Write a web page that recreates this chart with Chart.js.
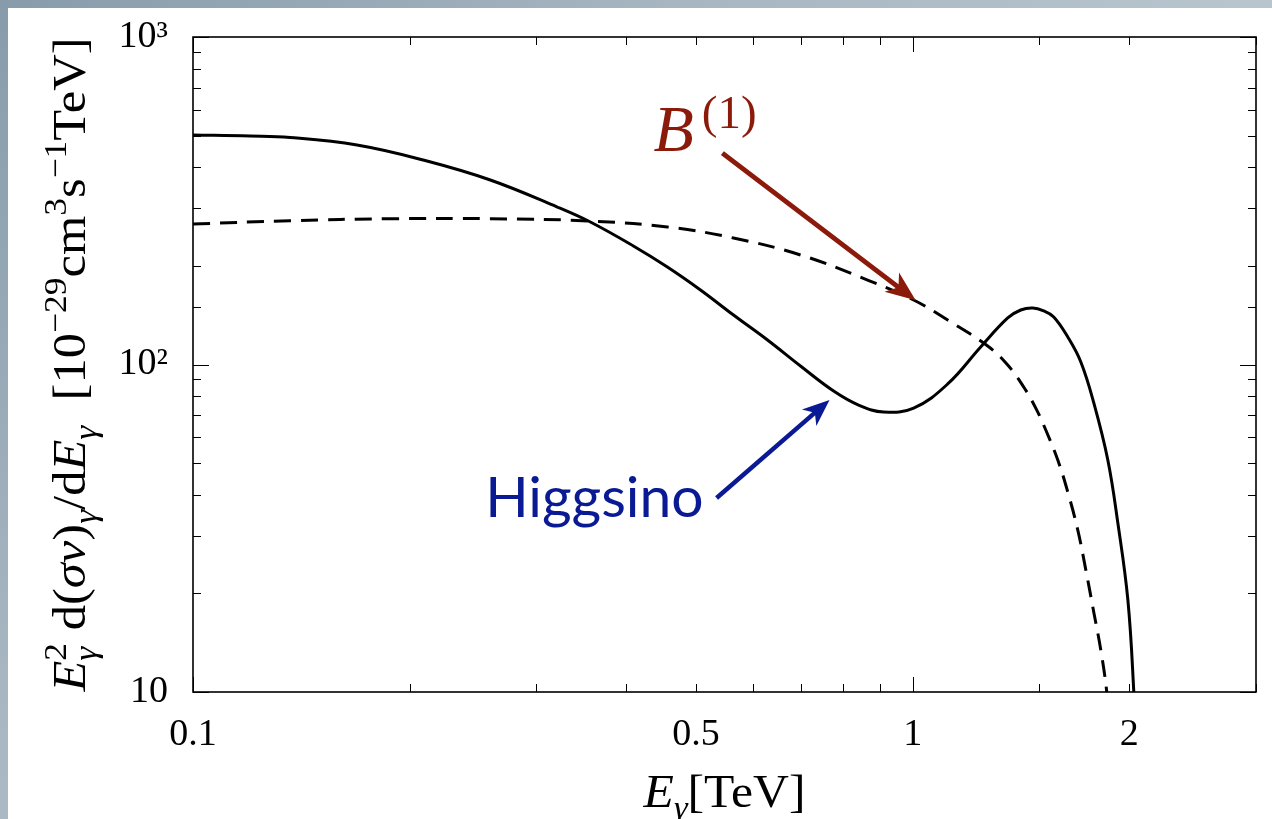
<!DOCTYPE html>
<html>
<head>
<meta charset="utf-8">
<script src="https://cdn.jsdelivr.net/npm/chart.js@4.4.1/dist/chart.umd.min.js"></script>
<style>
  html, body { margin: 0; padding: 0; }
  body {
    width: 1272px; height: 819px; overflow: hidden; position: relative;
    background: radial-gradient(circle at 0 0, #879cab 0%, #a7b6c1 45%, #b9c6ce 85%);
  }
  #sheet { position: absolute; left: 8px; top: 8px; width: 1264px; height: 811px; background: #fff; }
</style>
</head>
<body>
<div id="sheet"><canvas id="spectrum" width="1264" height="811"></canvas></div>
<script>
"use strict";

// photon energy grid [TeV] and E^2 d(sigma v)/dE [1e-29 cm^3 s^-1 TeV]
const higgsinoE = [0.1, 0.12, 0.1364, 0.169, 0.2089, 0.2589, 0.3208, 0.3566, 0.4092, 0.4562,
  0.5072, 0.5637, 0.6285, 0.6985, 0.7766, 0.8412, 0.9114, 1.0032, 1.1187, 1.2432,
  1.3556, 1.4131, 1.4686, 1.5212, 1.5707, 1.6428, 1.7128, 1.7855, 1.8673, 1.9282,
  1.991, 2.0296, 2.042];
const higgsinoFlux = [502, 498.5, 493.3, 467.9, 421.1, 365.9, 302.6, 272.3, 230.1, 198.5,
  168.9, 141.6, 118.8, 98.95, 82.99, 75.2, 71.6, 73.6, 87.2, 113.1,
  138.7, 146.7, 148.8, 145.7, 139.7, 121.3, 101.8, 76.3, 51.1, 32.8,
  19.1, 9.93, 7];

const kkE = [0.1, 0.1364, 0.1879, 0.2589, 0.3566, 0.4562, 0.5637, 0.6985, 0.8657, 1.0032,
  1.1187, 1.2714, 1.3556, 1.4267, 1.4828, 1.5311, 1.5911, 1.6428, 1.6963, 1.7403,
  1.7855, 1.8261, 1.8616, 1.873];
const kkFlux = [268.5, 274.8, 278.7, 278.7, 274.2, 263, 243.4, 216, 181.1, 157.4,
  136.7, 113.9, 99.6, 85.4, 73.6, 63.1, 51.1, 40.8, 31.2, 23.6,
  17.5, 13.4, 9.93, 8];

const xTickLabels = [0.1, 0.5, 1, 2];
const yTickLabels = { 10: "10", 100: "10\u00B2", 1000: "10\u00B3" };

const SERIF = '"Liberation Serif", "Times New Roman", serif';
const RED = "#8c1a0a";
const BLUE = "#0a1a94";

function near(a, b) {
  return Math.abs(a - b) < 1e-9 * Math.max(1, Math.abs(b));
}

function isDecade(v) {
  const l = Math.log10(v);
  return Math.abs(l - Math.round(l)) < 1e-6;
}

// small rich text helper: parts are {t, i (italic), s: 'sup'|'sub', hold (stack with next)}
function font(size, italic) {
  return (italic ? "italic " : "") + size + "px " + SERIF;
}

function layoutRich(ctx, parts, size) {
  let w = 0;
  let held = 0;
  const items = [];
  parts.forEach(p => {
    const sz = p.s ? size * 0.7 : size;
    ctx.font = font(sz, p.i);
    const pw = ctx.measureText(p.t).width;
    const dy = p.s === "sup" ? -size * 0.42 : p.s === "sub" ? size * 0.24 : 0;
    items.push({ t: p.t, f: ctx.font, x: w, dy: dy });
    if (p.hold) {
      held = pw;
    } else {
      w += Math.max(pw, held);
      held = 0;
    }
  });
  return { items: items, width: w };
}

function drawRich(ctx, parts, size, stretch, color) {
  const lay = layoutRich(ctx, parts, size);
  ctx.scale(stretch, 1);
  ctx.fillStyle = color;
  ctx.textBaseline = "alphabetic";
  ctx.textAlign = "left";
  lay.items.forEach(it => {
    ctx.font = it.f;
    ctx.fillText(it.t, it.x - lay.width / 2, it.dy);
  });
}

const yTitle = [
  { t: "E", i: true }, { t: "2", s: "sup", hold: true }, { t: "\u03B3", s: "sub", i: true },
  { t: " d(" }, { t: "\u03C3v", i: true }, { t: ")" }, { t: "\u03B3", s: "sub", i: true },
  { t: "/d" }, { t: "E", i: true }, { t: "\u03B3", s: "sub", i: true },
  { t: "  [10" }, { t: "\u221229", s: "sup" }, { t: "cm" }, { t: "3", s: "sup" },
  { t: "s" }, { t: "\u22121", s: "sup" }, { t: "TeV]" }
];
const xTitle = [
  { t: "E", i: true }, { t: "\u03B3", s: "sub", i: true }, { t: "[TeV]" }
];

function arrow(ctx, x1, y1, x2, y2, color, lw, L, W) {
  const a = Math.atan2(y2 - y1, x2 - x1);
  const len = Math.hypot(x2 - x1, y2 - y1);
  ctx.save();
  ctx.translate(x2, y2);
  ctx.rotate(a);
  ctx.strokeStyle = color;
  ctx.lineWidth = lw;
  ctx.beginPath();
  ctx.moveTo(-len, 0);
  ctx.lineTo(-L * 0.7, 0);
  ctx.stroke();
  ctx.fillStyle = color;
  ctx.beginPath();
  ctx.moveTo(0, 0);
  ctx.lineTo(-L, W);
  ctx.lineTo(-L * 0.72, 0);
  ctx.lineTo(-L, -W);
  ctx.closePath();
  ctx.fill();
  ctx.restore();
}

// frame, inward ticks on all four sides, axis titles
const framePlugin = {
  id: "frame",
  afterDraw(chart) {
    const ctx = chart.ctx;
    const { left, right, top, bottom } = chart.chartArea;
    const xs = chart.scales.x;
    const ys = chart.scales.y;
    ctx.save();
    ctx.strokeStyle = "#000";
    ctx.lineWidth = 1;
    ctx.beginPath();
    xs.ticks.forEach(t => {
      const px = Math.round(xs.getPixelForValue(t.value)) + 0.5;
      const len = isDecade(t.value) ? 15 : 8;
      ctx.moveTo(px, bottom); ctx.lineTo(px, bottom - len);
      ctx.moveTo(px, top); ctx.lineTo(px, top + len);
    });
    ys.ticks.forEach(t => {
      const py = Math.round(ys.getPixelForValue(t.value)) + 0.5;
      const len = isDecade(t.value) ? 16 : 8;
      ctx.moveTo(left, py); ctx.lineTo(left + len, py);
      ctx.moveTo(right, py); ctx.lineTo(right - len, py);
    });
    ctx.stroke();
    ctx.lineWidth = 1.6;
    ctx.strokeRect(left, top, right - left, bottom - top);

    ctx.save();
    ctx.translate((left + right) / 2, 799);
    drawRich(ctx, xTitle, 46, 1.08, "#000");
    ctx.restore();

    ctx.save();
    ctx.translate(77, (top + bottom) / 2);
    ctx.rotate(-Math.PI / 2);
    drawRich(ctx, yTitle, 46, 1.1, "#000");
    ctx.restore();
    ctx.restore();
  }
};

// labels with arrows pointing at the two spectra (anchored in data units)
const labelPlugin = {
  id: "callouts",
  afterDatasetsDraw(chart) {
    const ctx = chart.ctx;
    const xs = chart.scales.x;
    const ys = chart.scales.y;
    const P = (e, f) => [xs.getPixelForValue(e), ys.getPixelForValue(f)];
    ctx.save();

    const b0 = P(0.544, 442), b1 = P(1.0097, 157);
    arrow(ctx, b0[0], b0[1], b1[0], b1[1], RED, 5, 30, 12);
    const bl = P(0.4364, 449);
    ctx.fillStyle = RED;
    ctx.textBaseline = "alphabetic";
    ctx.textAlign = "left";
    ctx.font = font(66, true);
    ctx.fillText("B", bl[0], bl[1]);
    const bw = ctx.measureText("B").width;
    ctx.font = font(47, false);
    ctx.fillText("(1)", bl[0] + bw + 8, bl[1] - 23);

    const h0 = P(0.534, 39.1), h1 = P(0.7665, 77.9);
    arrow(ctx, h0[0], h0[1], h1[0], h1[1], BLUE, 4.5, 27, 11);
    const hl = P(0.2547, 34.2);
    ctx.fillStyle = BLUE;
    ctx.font = '57px Lato, "Open Sans", sans-serif';
    ctx.fillText("Higgsino", hl[0], hl[1]);
    ctx.restore();
  }
};

const ctx = document.getElementById("spectrum").getContext("2d");
const chart = new Chart(ctx, {
  type: "line",
  data: {
    datasets: [
      {
        label: "Higgsino",
        data: higgsinoE.map((e, k) => ({ x: e, y: higgsinoFlux[k] })),
        borderColor: "#000",
        borderWidth: 3,
        pointRadius: 0,
        tension: 0.4,
        clip: 0
      },
      {
        label: "B(1)",
        data: kkE.map((e, k) => ({ x: e, y: kkFlux[k] })),
        borderColor: "#000",
        borderWidth: 3,
        borderDash: [17, 10],
        pointRadius: 0,
        tension: 0.4,
        clip: 0
      }
    ]
  },
  options: {
    responsive: false,
    animation: false,
    layout: { padding: { top: 29, right: 16, left: 0, bottom: 0 } },
    plugins: { legend: { display: false }, tooltip: { enabled: false } },
    scales: {
      x: {
        type: "logarithmic",
        min: 0.1,
        max: 3,
        grid: { display: false, drawTicks: false },
        border: { display: false },
        ticks: {
          autoSkip: false,
          maxRotation: 0,
          padding: 20,
          color: "#000",
          font: { family: SERIF, size: 38 },
          callback: v => (xTickLabels.some(t => near(v, t)) ? String(v) : "")
        },
        afterFit: s => {
          s.height = 127;
          s.paddingLeft = 0;
          s.paddingRight = 0;
        }
      },
      y: {
        type: "logarithmic",
        min: 10,
        max: 1000,
        grid: { display: false, drawTicks: false },
        border: { display: false },
        ticks: {
          autoSkip: false,
          padding: 25,
          color: "#000",
          font: { family: SERIF, size: 38 },
          callback: v => {
            const k = Object.keys(yTickLabels).find(t => near(v, Number(t)));
            return k ? yTickLabels[k] : "";
          }
        },
        afterFit: s => {
          s.width = 185;
          s.paddingTop = 0;
          s.paddingBottom = 0;
        }
      }
    }
  },
  plugins: [framePlugin, labelPlugin]
});
</script>
</body>
</html>
